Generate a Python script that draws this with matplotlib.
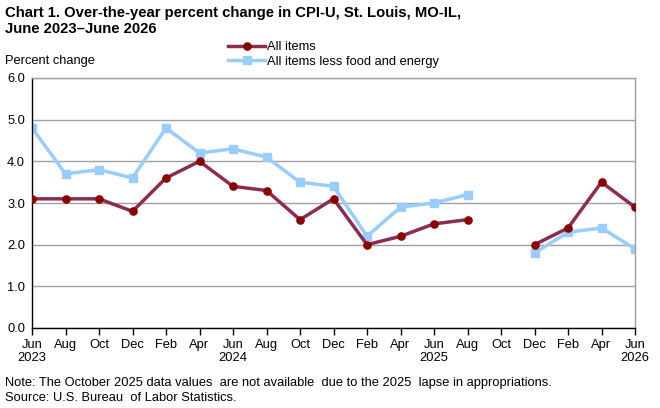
import numpy as np
import matplotlib.pyplot as plt

plt.rcParams["font.family"] = ["Liberation Sans", "DejaVu Sans"]

months = ["Jun", "Aug", "Oct", "Dec", "Feb", "Apr", "Jun", "Aug", "Oct", "Dec",
          "Feb", "Apr", "Jun", "Aug", "Oct", "Dec", "Feb", "Apr", "Jun"]
years = {0: "2023", 6: "2024", 12: "2025", 18: "2026"}
all_items = [3.1, 3.1, 3.1, 2.8, 3.6, 4.0, 3.4, 3.3, 2.6, 3.1,
             2.0, 2.2, 2.5, 2.6, np.nan, 2.0, 2.4, 3.5, 2.9]
core = [4.8, 3.7, 3.8, 3.6, 4.8, 4.2, 4.3, 4.1, 3.5, 3.4,
        2.2, 2.9, 3.0, 3.2, np.nan, 1.8, 2.3, 2.4, 1.9]

tick_labels = [m + ("\n" + years[i] if i in years else "") for i, m in enumerate(months)]
x = np.arange(len(months))

fig = plt.figure(figsize=(6.6, 4.08), dpi=100)
ax = fig.add_axes([32 / 660, 80 / 408, 603 / 660, 250 / 408])

ax.plot(x, all_items, color="#8B2D52", lw=2.5, marker="o", ms=5.2,
        mfc="#8B0000", mec="#8B0000", label="All items", zorder=3)
ax.plot(x, core, color="#99CCFF", lw=2.5, marker="s", ms=5.2,
        mfc="#99CCFF", mec="#99CCFF", label="All items less food and energy", zorder=2)

ax.set_xlim(0, len(months) - 1)
ax.set_ylim(0, 6)
ax.set_yticks(np.arange(0, 6.1, 1.0))
ax.set_yticklabels([f"{v:.1f}" for v in np.arange(0, 6.1, 1.0)], fontsize=9.3)
ax.set_xticks(x)
ax.set_xticklabels(tick_labels, fontsize=9.3, linespacing=1.05)
ax.yaxis.grid(True, color="#A0A0A0", lw=1)
ax.set_axisbelow(True)
ax.tick_params(axis="y", length=0, pad=5)
ax.tick_params(axis="x", direction="out", length=5, width=1, color="black", pad=3)
ax.spines["left"].set_color("black")
ax.spines["bottom"].set_color("black")
ax.spines["right"].set_color("#A0A0A0")
ax.spines["top"].set_color("#A0A0A0")
for s in ax.spines.values():
    s.set_linewidth(1)

fig.text(0.008, 0.985, "Chart 1. Over-the-year percent change in CPI-U, St. Louis, MO-IL,\nJune 2023\u2013June 2026",
         fontsize=10.7, fontweight="bold", va="top", ha="left", linespacing=1.15)
fig.text(0.008, 0.835, "Percent change", fontsize=9.3, ha="left", va="bottom")

fig.legend(loc="upper left", bbox_to_anchor=(228 / 660, 1 - 41 / 408), frameon=False,
           fontsize=9.3, handlelength=2.9, handletextpad=0.15, labelspacing=0.2,
           borderpad=0, borderaxespad=0)

fig.text(0.008, 0.062, "Note: The October 2025 data values  are not available  due to the 2025  lapse in appropriations.",
         fontsize=9.3, ha="left", va="center")
fig.text(0.008, 0.025, "Source: U.S. Bureau  of Labor Statistics.", fontsize=9.3, ha="left", va="center")

fig.savefig("out.png", dpi=100)
